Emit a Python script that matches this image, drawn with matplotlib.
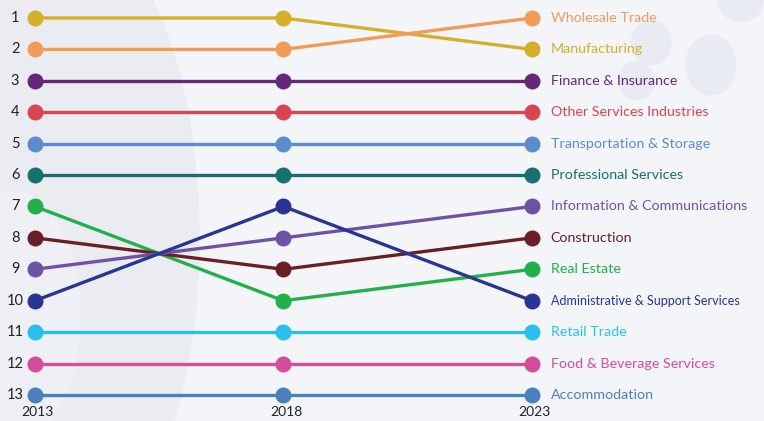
import matplotlib
matplotlib.use('Agg')
import matplotlib.pyplot as plt
from matplotlib.patches import Ellipse

years = [2013, 2018, 2023]

industries = ["Manufacturing", "Wholesale Trade", "Finance & Insurance",
              "Other Services Industries", "Transportation & Storage",
              "Professional Services", "Real Estate", "Construction",
              "Information & Communications", "Administrative & Support Services",
              "Retail Trade", "Food & Beverage Services", "Accommodation"]

ranks = [[1, 1, 2],
         [2, 2, 1],
         [3, 3, 3],
         [4, 4, 4],
         [5, 5, 5],
         [6, 6, 6],
         [7, 10, 9],
         [8, 9, 8],
         [9, 8, 7],
         [10, 7, 10],
         [11, 11, 11],
         [12, 12, 12],
         [13, 13, 13]]

colors = ["#d4b02a", "#f19b5a", "#66267a", "#d94452", "#5b8ccc", "#16706e",
          "#22b04b", "#6a1f24", "#6f52a6", "#283593", "#27c0ec", "#d44c9a",
          "#4a7fc0"]

rank_labels = [str(i) for i in range(1, 14)]

fig = plt.figure(figsize=(7.64, 4.21), dpi=100)
fig.patch.set_facecolor("#f3f5f8")
ax = fig.add_axes([0, 0, 1, 1])
ax.set_facecolor("#f3f5f8")

# faint decorative shapes in background
ax.add_patch(Ellipse((2013.6, 8.0), 5.4, 20, color="#eaecf2", zorder=0))
ax.add_patch(Ellipse((2012.6, 10.5), 2.6, 8, color="#eef0f5", zorder=0))
for cx, cy, w, h in [(2025.4, 1.8, 0.8, 1.4), (2026.6, 2.5, 1.0, 1.9),
                     (2025.1, 3.0, 0.7, 1.2), (2027.2, 0.5, 0.9, 1.2)]:
    ax.add_patch(Ellipse((cx, cy), w, h, color="#e8ebf2", zorder=0))

for name, r, c in zip(industries, ranks, colors):
    ax.plot(years, r, color=c, lw=2.4, marker="o", ms=10.5, zorder=3,
            solid_capstyle="round")
    fs = 9.0 if name.startswith("Administrative") else 10.3
    ax.text(years[-1] + 0.38, r[-1], name, color=c, fontsize=fs,
            family="Lato", va="center", ha="left", zorder=4)

for i, lab in enumerate(rank_labels):
    ax.text(2012.6, i + 1, lab, fontsize=10.5, family="Lato",
            color="#222222", ha="center", va="center")

for y in years:
    ax.text(y + 0.05, 13.55, str(y), fontsize=10, family="Lato", color="#222222",
            ha="center", va="center")

ax.set_xlim(2012.296, 2027.67)
ax.set_ylim(13.83, 0.427)
ax.axis("off")

fig.savefig("out.png", dpi=100, facecolor=fig.get_facecolor())
